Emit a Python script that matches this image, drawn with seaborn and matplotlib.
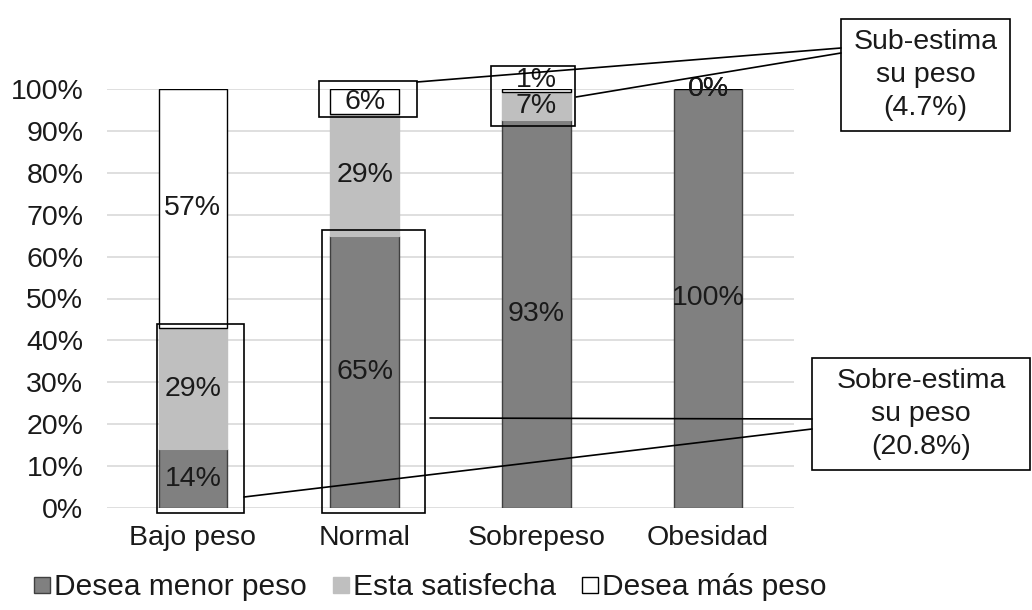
import matplotlib
matplotlib.use('Agg')
import matplotlib.pyplot as plt
import seaborn as sns
import numpy as np
from matplotlib.patches import Rectangle
from matplotlib.lines import Line2D

sns.set_style('white')
plt.rcParams['font.family'] = ['Liberation Sans', 'DejaVu Sans']

# datos (porcentajes por categoria de IMC)
categorias = ['Bajo peso', 'Normal', 'Sobrepeso', 'Obesidad']
menor_peso = [14, 65, 92.6, 100]
satisfecha = [29, 29, 6.6, 0]
mas_peso = [57, 6, 0.8, 0]
series = ['Desea menor peso', 'Esta satisfecha', 'Desea más peso']
colores = ['#808080', '#bfbfbf', '#ffffff']
bordes = ['#404040', '#bfbfbf', '#000000']

W, H = 1032, 610
fig = plt.figure(figsize=(W / 100, H / 100), dpi=100)
ax = fig.add_axes([107 / W, 1 - 508 / H, (794 - 107) / W, (508 - 89) / H])

fs = 20.5
base = np.zeros(len(categorias))
for vals, col, ec in zip([menor_peso, satisfecha, mas_peso], colores, bordes):
    sns.barplot(x=categorias, y=vals, bottom=base, color=col, edgecolor=ec,
                linewidth=1, width=0.4, saturation=1, ax=ax)
    for i, v in enumerate(vals):
        yc = base[i] + v / 2
        if 0 < v < 2:
            yc += 2.5  # etiqueta pequeña algo más arriba
        ax.text(i, yc, f'{v:.0f}%', ha='center', va='center', fontsize=fs,
                color='#1a1a1a', zorder=6)
    base = base + np.array(vals)

ax.set_ylim(0, 100)
ax.set_xlim(-0.5, 3.5)
ax.set_yticks(np.arange(0, 101, 10))
ax.set_yticklabels([f'{t}%' for t in range(0, 101, 10)])
ax.yaxis.grid(True, color='#d9d9d9', linewidth=1.2)
ax.set_axisbelow(True)
for s in ax.spines.values():
    s.set_visible(False)
ax.tick_params(axis='both', length=0, labelsize=fs, colors='#1a1a1a')
ax.tick_params(axis='y', pad=17)
ax.tick_params(axis='x', pad=12)
ax.set_xlabel('')
ax.set_ylabel('')

# recuadros de resalte sobre las barras
cajas = [(-0.21, -1.1, 0.507, 45.1), (0.75, -1.1, 0.6, 67.4),
         (0.733, 93.3, 0.57, 8.6), (1.733, 91.2, 0.494, 14.3)]
for x0, y0, w, h in cajas:
    ax.add_patch(Rectangle((x0, y0), w, h, fill=False, edgecolor='black',
                           linewidth=1.2, clip_on=False, zorder=5))


def px(x, y):
    return x / W, 1 - y / H


# lineas de conexion
for (x1, y1), (x2, y2) in [((417, 82), (841, 48)), ((576, 97), (841, 53)),
                           ((430, 418), (812, 419)), ((244, 497), (812, 429))]:
    a, b = px(x1, y1)
    c, d = px(x2, y2)
    fig.add_artist(Line2D([a, c], [b, d], color='black', linewidth=1.2,
                          transform=fig.transFigure))

# cuadros de texto
for (x0, y0, x1, y1), txt in [((841, 19, 1010, 131), 'Sub-estima\nsu peso\n(4.7%)'),
                              ((812, 358, 1030, 470), 'Sobre-estima\nsu peso\n(20.8%)')]:
    a, b = px(x0, y1)
    fig.add_artist(Rectangle((a, b), (x1 - x0) / W, (y1 - y0) / H, fill=True,
                             facecolor='white', edgecolor='black', linewidth=1.2,
                             transform=fig.transFigure))
    cx, cy = px((x0 + x1) / 2, (y0 + y1) / 2)
    fig.text(cx, cy, txt, ha='center', va='center', fontsize=fs,
             color='#1a1a1a', linespacing=1.35)

# leyenda
handles = [Line2D([], [], marker='s', linestyle='', markersize=11,
                  markerfacecolor=c, markeredgecolor=e, markeredgewidth=1)
           for c, e in zip(colores, bordes)]
fig.legend(handles, series, loc='center', bbox_to_anchor=px(429, 587), ncol=3,
           frameon=False, fontsize=21.5, handletextpad=0.05, columnspacing=0.8,
           handlelength=0.7, labelcolor='#1a1a1a')

fig.savefig('out.png', dpi=100)
